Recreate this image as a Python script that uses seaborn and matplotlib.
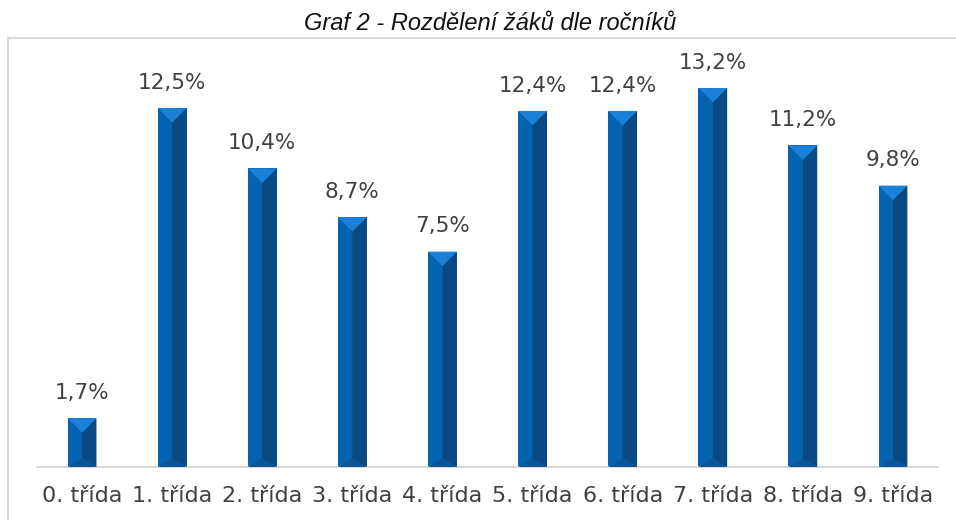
import matplotlib
matplotlib.use('Agg')
import matplotlib.pyplot as plt
import seaborn as sns
import pandas as pd
from matplotlib.patches import Polygon, Rectangle

# Data
grades = ['0. třída', '1. třída', '2. třída', '3. třída', '4. třída',
          '5. třída', '6. třída', '7. třída', '8. třída', '9. třída']
shares = [1.7, 12.5, 10.4, 8.7, 7.5, 12.4, 12.4, 13.2, 11.2, 9.8]
value_labels = ['1,7%', '12,5%', '10,4%', '8,7%', '7,5%',
                '12,4%', '12,4%', '13,2%', '11,2%', '9,8%']

FACE = '#0562ae'
TOP = '#1a80d8'
SIDE = '#0a4a84'
BOTTOM = '#0b5596'
TEXT = '#404040'

sns.set_theme(style='white')
plt.rcParams['font.family'] = ['DejaVu Sans']

df = pd.DataFrame({'grade': grades, 'share': shares})

fig = plt.figure(figsize=(9.56, 5.2), dpi=100)
W, H = 956, 520
ax = fig.add_axes([37 / W, (520 - 467) / H, (938 - 37) / W, (467 - 65) / H])

sns.barplot(ax=ax, data=df, x='grade', y='share', color=FACE,
            width=0.32, saturation=1, edgecolor='none', linewidth=0)

ax.set_xlim(-0.5, 9.5)
ax.set_ylim(0, 14)
fig.canvas.draw()

# Bevel effect on each bar, depth = half the bar width in pixels
inv = ax.transData.inverted()
for p in list(ax.patches):
    x0, w, h = p.get_x(), p.get_width(), p.get_height()
    (px0, py0) = ax.transData.transform((x0, 0))
    (px1, py1) = ax.transData.transform((x0 + w, h))
    d = (px1 - px0) / 2.0
    pxm = (px0 + px1) / 2.0
    def to_data(pts):
        return [inv.transform(pt) for pt in pts]
    # right darker side
    ax.add_patch(Polygon(to_data([(pxm, py1 - d), (px1, py1), (px1, py0), (pxm, py0 + d * 0.6)]),
                         closed=True, facecolor=SIDE, edgecolor='none', zorder=3))
    # bottom triangle
    ax.add_patch(Polygon(to_data([(px0, py0), (px1, py0), (pxm, py0 + d * 0.6)]),
                         closed=True, facecolor=BOTTOM, edgecolor='none', zorder=3))
    # top triangle
    ax.add_patch(Polygon(to_data([(px0, py1), (px1, py1), (pxm, py1 - d)]),
                         closed=True, facecolor=TOP, edgecolor='none', zorder=3))

# Value labels
for i, (v, lab) in enumerate(zip(shares, value_labels)):
    ax.annotate(lab, (i, v), xytext=(0, 11), textcoords='offset points',
                ha='center', va='bottom', fontsize=15.5, color=TEXT)

# Axes styling
for s in ['top', 'right', 'left']:
    ax.spines[s].set_visible(False)
ax.spines['bottom'].set_color('#d9d9d9')
ax.spines['bottom'].set_linewidth(1.5)
ax.set_yticks([])
ax.set_xlabel('')
ax.set_ylabel('')
ax.tick_params(axis='x', length=0, pad=14, labelsize=16, labelcolor=TEXT)

# Outer chart frame
fig.add_artist(Rectangle((7.5 / W, -0.1), (W + 20) / W, (520 - 38) / H + 0.1,
                         transform=fig.transFigure, fill=False,
                         edgecolor='#d9d9d9', linewidth=1.5, clip_on=False))

fig.text(490 / W, 1 - 30 / H, 'Graf 2 - Rozdělení žáků dle ročníků',
         ha='center', va='baseline', fontsize=17, style='italic',
         family='Liberation Sans', color='#111111')

plt.savefig('out.png', dpi=100)
